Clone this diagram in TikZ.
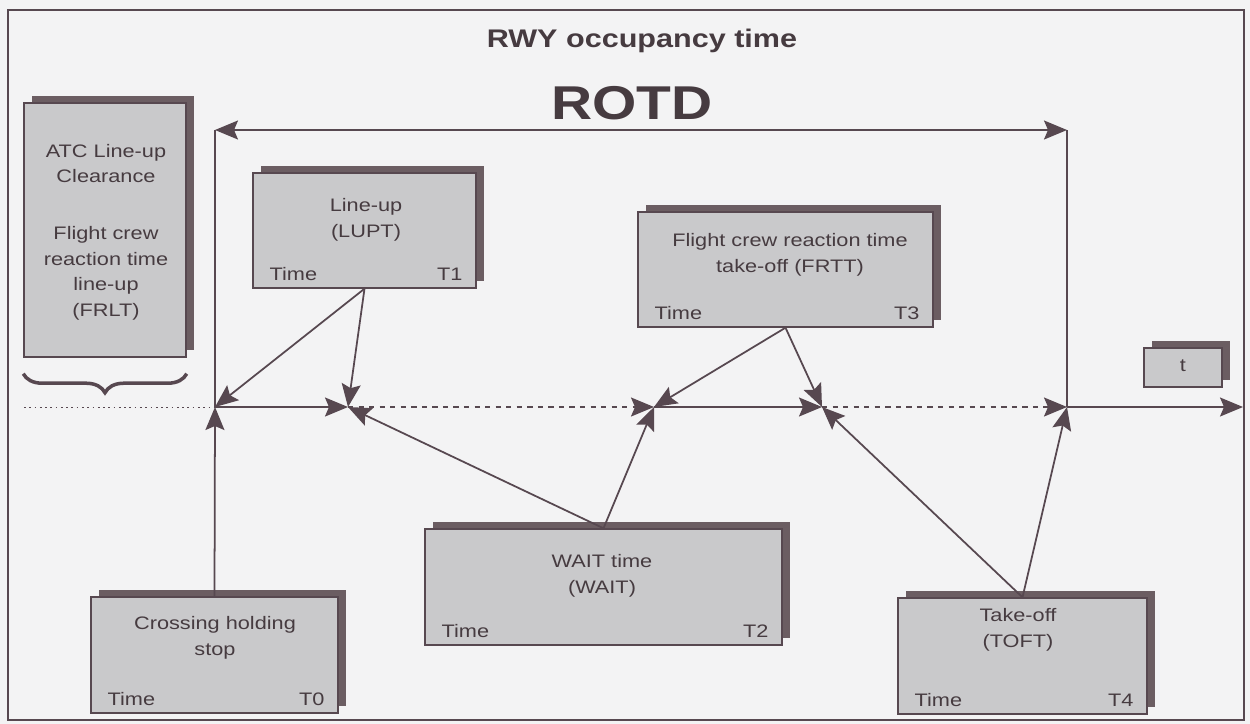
\documentclass[tikz,border=0pt]{standalone}
\usepackage{fontspec}
\setmainfont{Liberation Sans}[FakeStretch=1.2]
\usepackage{xcolor}
\usetikzlibrary{arrows.meta,shadows,decorations.pathreplacing}
\definecolor{inkgray}{HTML}{574850}
\definecolor{textgray}{HTML}{463B40}
\definecolor{boxfill}{HTML}{C9C9CB}
\definecolor{boxshadow}{HTML}{6B5D62}
\definecolor{paper}{HTML}{F3F3F4}

\begin{document}
\begin{tikzpicture}[x=0.2mm,y=-0.2mm,
  every node/.style={font=\fontsize{10.3}{14.5}\selectfont,text=textgray,inner sep=0pt},
  phase/.style={draw=inkgray,fill=boxfill,line width=0.8pt,
    general shadow={fill=boxshadow,shadow xshift=1.6mm,shadow yshift=1.4mm}},
  >={Stealth[length=4.6mm,width=3.8mm,inset=0.8mm]},
  link/.style={inkgray,line width=1pt},
  conn/.style={link,->}]
  \useasboundingbox (0,0) rectangle (1250,724);
  \fill[paper] (0,0) rectangle (1250,724);
  \draw[inkgray,line width=0.6pt] (8,10) rectangle (1244,720);

  % titles
  \node[font=\bfseries\fontsize{14.5}{16}\selectfont,anchor=base] (title) at (642,47) {RWY occupancy time};
  \node[font=\bfseries\fontsize{27}{30}\selectfont,anchor=base] (rotd) at (632,119) {ROTD};

  % phase boxes
  \node[phase,minimum width=32.4mm,minimum height=50.8mm] (frlt) at (105,230) {};
  \node[phase,minimum width=44.6mm,minimum height=23mm] (lupt) at (364.5,230.5) {};
  \node[phase,minimum width=59mm,minimum height=23mm] (frtt) at (785.5,269.5) {};
  \node[phase,minimum width=15.6mm,minimum height=7.8mm] (tbox) at (1183,367.5) {};
  \node[phase,minimum width=49.4mm,minimum height=23.2mm] (hold) at (214.5,655) {};
  \node[phase,minimum width=71.4mm,minimum height=23.2mm] (wait) at (603.5,587) {};
  \node[phase,minimum width=49.8mm,minimum height=23.2mm] (toft) at (1022.5,656) {};

  % box texts
  \node[align=center] (frlttxt) at (106,232) {ATC Line-up\\Clearance\\[18pt]Flight crew\\reaction time\\line-up\\(FRLT)};
  \node[align=center] (lupttxt) at (366,220) {Line-up\\(LUPT)};
  \node[align=center] (frtttxt) at (790,255) {Flight crew reaction time\\take-off (FRTT)};
  \node (ttxt) at (1183,366) {t};
  \node[align=center] (holdtxt) at (215,638) {Crossing holding\\stop};
  \node[align=center] (waittxt) at (602,576) {WAIT time\\(WAIT)};
  \node[align=center] (tofttxt) at (1018,630) {Take-off\\(TOFT)};

  \node[anchor=base west] (lupttime) at ([shift={(17,-8)}]lupt.south west) {Time};
  \node[anchor=base east] (luptmark) at ([shift={(-14,-8)}]lupt.south east) {T1};
  \node[anchor=base west] (frtttime) at ([shift={(17,-8)}]frtt.south west) {Time};
  \node[anchor=base east] (frttmark) at ([shift={(-14,-8)}]frtt.south east) {T3};
  \node[anchor=base west] (holdtime) at ([shift={(17,-8)}]hold.south west) {Time};
  \node[anchor=base east] (holdmark) at ([shift={(-14,-8)}]hold.south east) {T0};
  \node[anchor=base west] (waittime) at ([shift={(17,-8)}]wait.south west) {Time};
  \node[anchor=base east] (waitmark) at ([shift={(-14,-8)}]wait.south east) {T2};
  \node[anchor=base west] (tofttime) at ([shift={(17,-8)}]toft.south west) {Time};
  \node[anchor=base east] (toftmark) at ([shift={(-14,-8)}]toft.south east) {T4};

  \draw[inkgray,line width=2pt,decorate,decoration={brace,amplitude=3.8mm}]
    ([yshift=-3.2mm]frlt.south east) -- ([yshift=-3.2mm]frlt.south west);

  % time axis
  \coordinate (tstart) at (24,407);
  \coordinate (t0) at (215,407);
  \coordinate (t1) at (348,407);
  \coordinate (t2) at (654,407);
  \coordinate (t3) at (822,407);
  \coordinate (t4) at (1067,407);
  \coordinate (tend) at (1243,407);
  \coordinate (r0) at (215,130);
  \coordinate (r1) at (1067,130);

  \draw[link,dotted,line width=0.5pt] (tstart) -- (t0);
  \draw[conn] (t0) -- (t1);
  \draw[conn,dashed] (t1) -- (t2);
  \draw[conn] (t2) -- (t3);
  \draw[conn,dashed] (t3) -- (t4);
  \draw[conn] (t4) -- (tend);
  \draw[link] (t0) -- (r0);
  \draw[link] (r1) -- (t4);
  \draw[link,<->] (r0) -- (r1);

  % phase links
  \draw[conn] (lupt.south) -- (t0);
  \draw[conn] (lupt.south) -- (t1);
  \draw[conn] (hold.north) -- (t0);
  \draw[conn] (wait.north) -- (t1);
  \draw[conn] (wait.north) -- (t2);
  \draw[conn] (frtt.south) -- (t2);
  \draw[conn] (frtt.south) -- (t3);
  \draw[conn] (toft.north) -- (t3);
  \draw[conn] (toft.north) -- (t4);
\end{tikzpicture}
\end{document}
